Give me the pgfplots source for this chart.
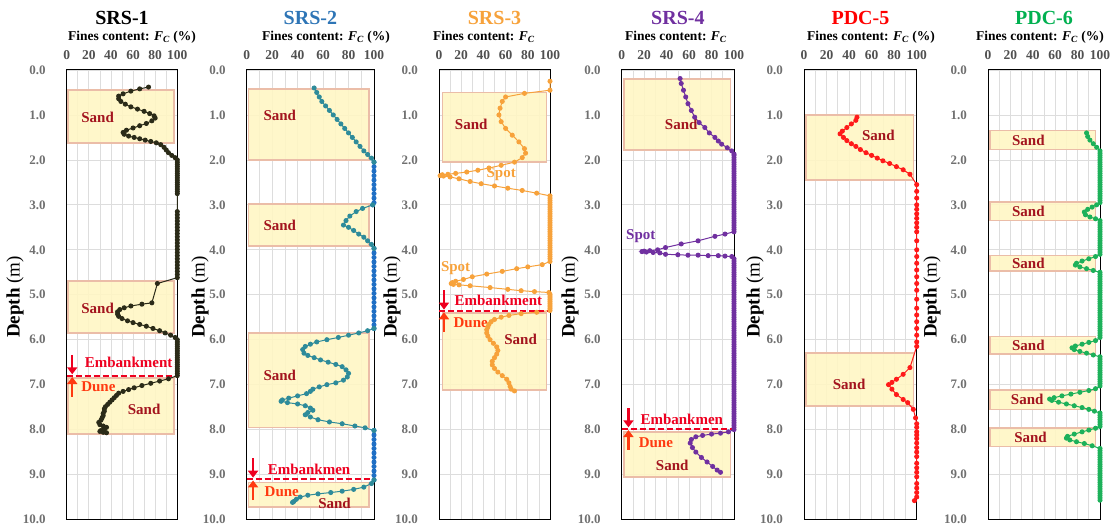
\documentclass[border=0pt]{standalone}
\usepackage{fontspec}
\setmainfont{Liberation Serif}
\usepackage{pgfplots}
\pgfplotsset{compat=1.18}
\usetikzlibrary{arrows.meta}

\definecolor{c1}{HTML}{2B2B18}
\definecolor{c2t}{HTML}{2E8B9A}
\definecolor{c2b}{HTML}{1F6FC5}
\definecolor{c2title}{HTML}{2E75B6}
\definecolor{c3}{HTML}{F7A23B}
\definecolor{c4}{HTML}{7030A0}
\definecolor{c5}{HTML}{FF1A1A}
\definecolor{c6}{HTML}{1DB15A}
\definecolor{c6title}{HTML}{00B050}
\definecolor{sandfill}{HTML}{FFF6C4}
\definecolor{sanddraw}{HTML}{EBBDA8}
\definecolor{sandtext}{HTML}{A3141E}
\definecolor{embred}{HTML}{EE0020}
\definecolor{dunered}{HTML}{FF3A10}
\definecolor{gridc}{HTML}{DDDDDD}
\definecolor{ytickc}{HTML}{707070}
\definecolor{xtickc}{HTML}{505050}

\newcommand{\lblfont}{\bfseries\fontsize{15}{15}\selectfont}
\newcommand{\titlefont}{\bfseries\fontsize{20}{20}\selectfont}
\newcommand{\finesfont}{\bfseries\fontsize{13.5}{13.5}\selectfont}
\newcommand{\FC}{\textit{F}\textsubscript{\textit{C}}}

\pgfplotsset{
 panel/.style={
  scale only axis, height=449.5pt, anchor=south west,
  xmin=0, xmax=100, ymin=0, ymax=10, y dir=reverse,
  xtick={0,20,...,100}, minor xtick={10,30,...,90},
  ytick={0,1,...,10},
  xmajorgrids, xminorgrids, ymajorgrids,
  major grid style={gridc, line width=0.7pt},
  minor grid style={gridc, line width=0.7pt},
  major tick length=0pt, minor tick length=0pt,
  xticklabel pos=upper,
  axis line style={line width=1pt, black},
  /pgf/number format/assume math mode=true,
  xticklabel style={font=\bfseries\fontsize{13.5}{13.5}\selectfont, text=xtickc, yshift=6.5pt},
  yticklabel style={font=\bfseries\fontsize{13}{13}\selectfont, text=ytickc, xshift=-17.5pt,
    /pgf/number format/fixed, /pgf/number format/fixed zerofill, /pgf/number format/precision=1},
  clip=false,
 },
 series/.style={color=#1, mark=*, mark size=2pt, line width=1pt, mark options={solid, fill=#1, draw=#1}},
 sandbox/.style={fill=sandfill, fill opacity=0.9, draw=sanddraw, line width=1.6pt},
 embline/.style={embred, line width=2pt, dash pattern=on 6pt off 3pt},
}
\tikzset{
 arrdown/.style={embred, line width=2.2pt, -{Triangle[length=7pt,width=10pt]}},
 arrup/.style={dunered, line width=2.2pt, -{Triangle[length=7pt,width=10pt]}},
 emb/.style={text=embred, font=\lblfont, inner sep=0pt},
 dune/.style={text=dunered, font=\lblfont, inner sep=0pt, anchor=west},
 sand/.style={text=sandtext, font=\lblfont, inner sep=0pt},
}

\begin{document}
\begin{tikzpicture}[x=1pt,y=1pt]
\path[use as bounding box] (0,0) rectangle (1115,529);

% ---------------- Panel 1: SRS-1
\begin{axis}[panel, at={(66.7pt,9.5pt)}, width=110.6pt]
\addplot[sandbox] coordinates {(1,0.45)(97,0.45)(97,1.62)(1,1.62)} -- cycle;
\addplot[sandbox] coordinates {(1,4.7)(97,4.7)(97,5.85)(1,5.85)} -- cycle;
\addplot[sandbox] coordinates {(1,6.85)(97,6.85)(97,8.1)(1,8.1)} -- cycle;
\addplot[series=c1] coordinates {
(74,0.38)(66,0.42)(58,0.47)(51,0.53)(47,0.58)(47,0.64)(49,0.7)(53,0.76)(58,0.82)(64,0.87)(70,0.92)(75,0.97)(79,1.02)(80,1.07)(77,1.13)(72,1.19)(66,1.24)(60,1.29)(54,1.34)(51,1.39)(52,1.43)(56,1.47)(61,1.5)(66,1.53)(71,1.56)(76,1.59)(81,1.62)(85,1.66)(88,1.72)(90,1.78)(92,1.84)(95,1.9)(98,1.95)(100,2.0)
(100,2.05)(100,2.1)(100,2.15)(100,2.2)(100,2.25)(100,2.3)(100,2.35)(100,2.4)(100,2.45)(100,2.5)(100,2.55)(100,2.6)(100,2.65)(100,2.7)(100,2.75)
(100,3.15)(100,3.22)(100,3.29)(100,3.36)(100,3.43)(100,3.5)(100,3.57)(100,3.64)(100,3.71)(100,3.78)(100,3.85)(100,3.92)(100,3.99)(100,4.06)(100,4.13)(100,4.2)(100,4.27)(100,4.34)(100,4.41)(100,4.48)(100,4.55)(100,4.62)
(82,4.75)(77,5.18)(68,5.21)(58,5.25)(52,5.29)(48,5.33)(46,5.38)(46,5.43)(47,5.48)(50,5.53)(55,5.58)(60,5.62)(66,5.66)(72,5.7)(78,5.75)(84,5.8)(89,5.85)(94,5.9)(98,5.95)(100,6.0)
(100,6.05)(100,6.1)(100,6.15)(100,6.2)(100,6.25)(100,6.3)(100,6.35)(100,6.4)(100,6.45)(100,6.5)(100,6.55)(100,6.6)(100,6.65)(100,6.7)(100,6.75)(100,6.8)
(92,6.87)(84,6.92)(76,6.97)(68,7.02)(61,7.07)(56,7.11)(51,7.15)(47,7.19)(45,7.24)(43,7.29)(41,7.34)(39,7.39)(37,7.44)(35,7.49)(34,7.54)(34,7.59)(33,7.64)(33,7.69)(32,7.74)(31,7.79)(29,7.84)(30,7.89)(33,7.92)(36,7.95)(34,7.99)(31,8.02)(30,8.04)(33,8.06)(36,8.07)
};
\addplot[embline] coordinates {(0,6.8)(100,6.8)};
\draw[arrdown] (axis cs:5,6.34) -- (axis cs:5,6.77);
\draw[arrup] (axis cs:5,7.27) -- (axis cs:5,6.83);
\node[emb] at (axis cs:56,6.5) {Embankment};
\node[dune] at (axis cs:13,7.04) {Dune};
\node[sand] at (axis cs:28,1.05) {Sand};
\node[sand] at (axis cs:28,5.3) {Sand};
\node[sand] at (axis cs:70,7.56) {Sand};
\end{axis}

% ---------------- Panel 2: SRS-2
\begin{axis}[panel, at={(246.7pt,9.5pt)}, width=127.3pt]
\addplot[sandbox] coordinates {(1.5,0.42)(96,0.42)(96,2.0)(1.5,2.0)} -- cycle;
\addplot[sandbox] coordinates {(1.5,2.98)(96,2.98)(96,3.92)(1.5,3.92)} -- cycle;
\addplot[sandbox] coordinates {(1.5,5.85)(96,5.85)(96,7.95)(1.5,7.95)} -- cycle;
\addplot[sandbox] coordinates {(1.5,9.18)(96,9.18)(96,9.72)(1.5,9.72)} -- cycle;
\addplot[series=c2b] coordinates {(100,2.05)(100,2.15)(100,2.25)(100,2.35)(100,2.45)(100,2.55)(100,2.65)(100,2.75)(100,2.85)(100,2.95)(99,3.0)};
\addplot[series=c2b] coordinates {(100,3.97)(100,4.07)(100,4.17)(100,4.27)(100,4.37)(100,4.47)(100,4.57)(100,4.67)(100,4.77)(100,4.87)(100,4.97)(100,5.07)(100,5.17)(100,5.27)(100,5.37)(100,5.47)(100,5.57)(100,5.67)(100,5.75)};
\addplot[series=c2b] coordinates {(100,8.02)(100,8.12)(100,8.22)(100,8.32)(100,8.42)(100,8.52)(100,8.62)(100,8.72)(100,8.82)(100,8.92)(100,9.02)(100,9.12)};
\addplot[series=c2t] coordinates {(53,0.4)(55,0.5)(57,0.6)(59,0.7)(62,0.8)(65,0.9)(68,1.0)(71,1.1)(74,1.2)(77,1.3)(80,1.4)(83,1.5)(86,1.6)(89,1.7)(92,1.8)(95,1.88)(98,1.96)(100,2.05)};
\addplot[series=c2t] coordinates {(99,3.0)(91,3.08)(86,3.15)(81,3.25)(78,3.35)(76,3.45)(80,3.5)(84,3.57)(88,3.65)(92,3.72)(95,3.8)(98,3.88)(100,3.97)};
\addplot[series=c2t] coordinates {(100,5.75)(95,5.8)(88,5.85)(80,5.9)(72,5.95)(63,6.0)(55,6.05)(50,6.1)(46,6.15)(44,6.22)(45,6.3)(48,6.35)(53,6.4)(58,6.45)(64,6.5)(70,6.55)(75,6.6)(78,6.67)(80,6.75)(79,6.83)(76,6.9)(70,6.96)(63,7.0)(57,7.05)(52,7.1)(50,7.15)(47,7.2)(40,7.25)(33,7.3)(28,7.34)(27,7.37)(32,7.4)(40,7.43)(46,7.47)(50,7.52)(52,7.57)(48,7.62)(46,7.67)(50,7.72)(56,7.78)(65,7.83)(75,7.87)(85,7.92)(93,7.96)(100,8.02)};
\addplot[series=c2t] coordinates {(100,9.12)(98,9.2)(92,9.28)(84,9.33)(75,9.37)(66,9.4)(56,9.43)(48,9.46)(42,9.5)(39,9.55)(37,9.6)(36,9.62)};
\addplot[embline] coordinates {(0,9.1)(100,9.1)};
\draw[arrdown] (axis cs:5,8.64) -- (axis cs:5,9.07);
\draw[arrup] (axis cs:5,9.57) -- (axis cs:5,9.13);
\node[emb] at (axis cs:49,8.88) {Embankmen};
\node[dune] at (axis cs:14,9.38) {Dune};
\node[sand] at (axis cs:26,1.0) {Sand};
\node[sand] at (axis cs:26,3.45) {Sand};
\node[sand] at (axis cs:26,6.8) {Sand};
\node[sand] at (axis cs:69,9.64) {Sand};
\end{axis}

% ---------------- Panel 3: SRS-3
\begin{axis}[panel, at={(439pt,9.5pt)}, width=111pt]
\addplot[sandbox] coordinates {(3,0.5)(97,0.5)(97,2.05)(3,2.05)} -- cycle;
\addplot[sandbox] coordinates {(3,5.4)(97,5.4)(97,7.12)(3,7.12)} -- cycle;
\addplot[series=c3] coordinates {
(100,0.25)(100,0.45)(77,0.52)(60,0.6)(57,0.7)(55,0.85)(54,1.0)(56,1.15)(60,1.3)(66,1.45)(72,1.6)(77,1.75)(78,1.85)(75,1.95)(68,2.05)(56,2.12)(45,2.18)(35,2.23)(25,2.27)(15,2.3)(8,2.32)(3,2.33)(1,2.35)(4,2.36)(10,2.38)(18,2.42)(28,2.48)(38,2.53)(50,2.58)(62,2.63)(75,2.68)(88,2.74)(100,2.8)
(100,2.85)(100,2.9)(100,2.95)(100,3.0)(100,3.05)(100,3.1)(100,3.15)(100,3.2)(100,3.25)(100,3.3)(100,3.35)(100,3.4)(100,3.45)(100,3.5)(100,3.55)(100,3.6)(100,3.65)(100,3.7)(100,3.75)(100,3.8)(100,3.85)(100,3.9)(100,3.95)(100,4.0)(100,4.05)(100,4.1)(100,4.15)(100,4.2)(100,4.26)
(93,4.33)(80,4.38)(70,4.42)(57,4.48)(43,4.54)(30,4.6)(22,4.66)(15,4.7)(12,4.73)(11,4.75)(13,4.77)(18,4.78)(28,4.8)(46,4.84)(62,4.88)(74,4.91)(86,4.93)(99,4.95)
(100,4.99)(100,5.03)(100,5.07)(100,5.11)(100,5.15)(100,5.19)(100,5.23)(100,5.27)(100,5.31)(100,5.35)
(88,5.39)(74,5.42)(63,5.46)(56,5.5)(50,5.55)(47,5.6)(45,5.66)(44,5.72)(43,5.78)(43,5.85)(44,5.92)(46,6.0)(49,6.08)(52,6.16)(53,6.24)(52,6.32)(50,6.4)(48,6.48)(48,6.56)(50,6.64)(53,6.72)(57,6.8)(61,6.88)(63,6.96)(64,7.04)(65,7.1)(68,7.14)
};
\addplot[embline] coordinates {(0,5.36)(100,5.36)};
\draw[arrdown] (axis cs:4.5,4.9) -- (axis cs:4.5,5.33);
\draw[arrup] (axis cs:4.5,5.83) -- (axis cs:4.5,5.39);
\node[emb] at (axis cs:53.5,5.12) {Embankment};
\node[dune] at (axis cs:13,5.63) {Dune};
\node[sand] at (axis cs:29,1.2) {Sand};
\node[sand] at (axis cs:73.5,6.0) {Sand};
\node[text=c3, font=\lblfont, inner sep=0pt] at (axis cs:56,2.32) {Spot};
\node[text=c3, font=\lblfont, inner sep=0pt] at (axis cs:15,4.41) {Spot};
\end{axis}

% ---------------- Panel 4: SRS-4
\begin{axis}[panel, at={(621.7pt,9.5pt)}, width=112.3pt]
\addplot[sandbox] coordinates {(2,0.2)(97,0.2)(97,1.78)(2,1.78)} -- cycle;
\addplot[sandbox] coordinates {(2,8.05)(97,8.05)(97,9.05)(2,9.05)} -- cycle;
\addplot[series=c4] coordinates {
(52,0.19)(53,0.3)(55,0.45)(57,0.6)(59,0.75)(62,0.9)(65,1.05)(69,1.17)(74,1.28)(78,1.4)(83,1.5)(86,1.58)(89,1.65)(94,1.73)(98,1.8)(100,1.87)
(100,1.9)(100,1.95)(100,2.0)(100,2.05)(100,2.1)(100,2.15)(100,2.2)(100,2.25)(100,2.3)(100,2.35)(100,2.4)(100,2.45)(100,2.5)(100,2.55)(100,2.6)(100,2.65)(100,2.7)(100,2.75)(100,2.8)(100,2.85)(100,2.9)(100,2.95)(100,3.0)(100,3.05)(100,3.1)(100,3.15)(100,3.2)(100,3.25)(100,3.3)(100,3.35)(100,3.4)(100,3.45)(100,3.5)(100,3.55)(100,3.6)
(92,3.65)(83,3.7)(68,3.8)(53,3.87)(39,3.95)(32,4.0)(25,4.02)(20,4.03)(18,4.04)(22,4.05)(28,4.06)(34,4.07)(39,4.1)(50,4.11)(59,4.12)(68,4.12)(77,4.13)(86,4.13)(92,4.14)(98,4.15)(100,4.2)
(100,4.25)(100,4.3)(100,4.35)(100,4.4)(100,4.45)(100,4.5)(100,4.55)(100,4.6)(100,4.65)(100,4.7)(100,4.75)(100,4.8)(100,4.85)(100,4.9)(100,4.95)(100,5.0)(100,5.05)(100,5.1)(100,5.15)(100,5.2)(100,5.25)(100,5.3)(100,5.35)(100,5.4)(100,5.45)(100,5.5)(100,5.55)(100,5.6)(100,5.65)(100,5.7)(100,5.75)(100,5.8)(100,5.85)(100,5.9)(100,5.95)(100,6.0)(100,6.05)(100,6.1)(100,6.15)(100,6.2)(100,6.25)(100,6.3)(100,6.35)(100,6.4)(100,6.45)(100,6.5)(100,6.55)(100,6.6)(100,6.65)(100,6.7)(100,6.75)(100,6.8)(100,6.85)(100,6.9)(100,6.95)(100,7.0)(100,7.05)(100,7.1)(100,7.15)(100,7.2)(100,7.25)(100,7.3)(100,7.35)(100,7.4)(100,7.45)(100,7.5)(100,7.55)(100,7.6)(100,7.65)(100,7.7)(100,7.75)(100,7.8)(100,7.85)(100,7.9)(100,7.95)(100,8.0)
(95,8.05)(88,8.08)(80,8.1)(72,8.13)(66,8.16)(62,8.22)(61,8.3)(63,8.4)(66,8.5)(71,8.62)(76,8.72)(81,8.82)(85,8.9)(88,8.95)
};
\addplot[embline] coordinates {(0,7.98)(100,7.98)};
\draw[arrdown] (axis cs:6,7.52) -- (axis cs:6,7.95);
\draw[arrup] (axis cs:6,8.45) -- (axis cs:6,8.01);
\node[emb] at (axis cs:53.5,7.77) {Embankmen};
\node[dune] at (axis cs:15,8.3) {Dune};
\node[sand] at (axis cs:53,1.2) {Sand};
\node[sand] at (axis cs:45,8.79) {Sand};
\node[text=c4, font=\lblfont, inner sep=0pt] at (axis cs:17,3.7) {Spot};
\end{axis}

% ---------------- Panel 5: PDC-5
\begin{axis}[panel, at={(804pt,9.5pt)}, width=112.7pt]
\addplot[sandbox] coordinates {(2,1.0)(97,1.0)(97,2.45)(2,2.45)} -- cycle;
\addplot[sandbox] coordinates {(2,6.3)(97,6.3)(97,7.48)(2,7.48)} -- cycle;
\addplot[series=c5] coordinates {
(47,1.05)(46,1.12)(42,1.2)(38,1.28)(34,1.36)(32,1.42)(35,1.5)(38,1.57)(42,1.64)(46,1.7)(50,1.77)(55,1.84)(60,1.9)(65,1.96)(70,2.02)(76,2.08)(82,2.15)(88,2.22)(94,2.32)(100,2.55)
(100,2.7)(100,2.85)(100,3.0)(100,3.1)(100,3.2)(100,3.3)(100,3.4)(100,3.5)(100,3.6)(100,3.8)(100,4.0)(100,4.15)(100,4.3)(100,4.45)(100,4.6)(100,4.75)(100,4.9)(100,5.1)(100,5.3)(100,5.45)(100,5.6)(100,5.75)(100,5.9)(100,6.05)(100,6.15)
(94,6.62)(88,6.77)(82,6.88)(78,6.95)(75,7.0)(78,7.1)(82,7.22)(88,7.33)(92,7.4)(97,7.55)(99,7.74)(100,7.87)
(100,7.95)(100,8.05)(100,8.12)(100,8.2)(100,8.3)(100,8.4)(100,8.5)(100,8.6)(100,8.75)(100,8.85)(100,8.95)(100,9.05)(100,9.2)(100,9.3)(100,9.4)(100,9.5)(98,9.58)
};
\node[sand] at (axis cs:66,1.45) {Sand};
\node[sand] at (axis cs:40,7.0) {Sand};
\end{axis}

% ---------------- Panel 6: PDC-6
\begin{axis}[panel, at={(988pt,9.5pt)}, width=112pt]
\addplot[sandbox] coordinates {(2,1.35)(96,1.35)(96,1.77)(2,1.77)} -- cycle;
\addplot[sandbox] coordinates {(2,2.93)(96,2.93)(96,3.35)(2,3.35)} -- cycle;
\addplot[sandbox] coordinates {(2,4.13)(96,4.13)(96,4.47)(2,4.47)} -- cycle;
\addplot[sandbox] coordinates {(2,5.93)(96,5.93)(96,6.32)(2,6.32)} -- cycle;
\addplot[sandbox] coordinates {(2,7.12)(96,7.12)(96,7.55)(2,7.55)} -- cycle;
\addplot[sandbox] coordinates {(2,7.97)(96,7.97)(96,8.38)(2,8.38)} -- cycle;
\addplot[series=c6] coordinates {
(88,1.4)(89,1.48)(91,1.56)(94,1.64)(97,1.72)(100,1.8)
(100,1.85)(100,1.9)(100,1.95)(100,2.0)(100,2.05)(100,2.1)(100,2.15)(100,2.2)(100,2.25)(100,2.3)(100,2.35)(100,2.4)(100,2.45)(100,2.5)(100,2.55)(100,2.6)(100,2.65)(100,2.7)(100,2.75)(100,2.8)(100,2.85)(100,2.9)(100,2.95)
(97,3.0)(93,3.05)(89,3.1)(86,3.16)(87,3.22)(91,3.27)(96,3.31)(100,3.35)
(100,3.4)(100,3.45)(100,3.5)(100,3.55)(100,3.6)(100,3.65)(100,3.7)(100,3.75)(100,3.8)(100,3.85)(100,3.9)(100,3.95)(100,4.0)(100,4.05)(100,4.1)
(96,4.15)(90,4.2)(84,4.25)(79,4.3)(78,4.34)(82,4.38)(88,4.42)(94,4.46)(100,4.5)
(100,4.55)(100,4.6)(100,4.65)(100,4.7)(100,4.75)(100,4.8)(100,4.85)(100,4.9)(100,4.95)(100,5.0)(100,5.05)(100,5.1)(100,5.15)(100,5.2)(100,5.25)(100,5.3)(100,5.35)(100,5.4)(100,5.45)(100,5.5)(100,5.55)(100,5.6)(100,5.65)(100,5.7)(100,5.75)(100,5.8)(100,5.85)(100,5.9)(100,5.95)
(96,6.02)(90,6.06)(84,6.1)(78,6.14)(75,6.18)(77,6.22)(82,6.26)(88,6.3)(94,6.34)(100,6.38)
(100,6.43)(100,6.48)(100,6.53)(100,6.58)(100,6.63)(100,6.68)(100,6.73)(100,6.78)(100,6.83)(100,6.88)(100,6.93)(100,6.98)(100,7.03)
(96,7.09)(90,7.13)(82,7.17)(74,7.21)(66,7.25)(59,7.29)(55,7.32)(57,7.35)(63,7.39)(70,7.43)(77,7.47)(84,7.51)(90,7.55)(95,7.59)(100,7.63)
(100,7.68)(100,7.73)(100,7.78)(100,7.83)(100,7.88)(100,7.93)
(96,7.97)(90,8.01)(84,8.05)(77,8.1)(71,8.15)(70,8.19)(73,8.23)(79,8.27)(86,8.31)(93,8.36)(100,8.42)
(100,8.47)(100,8.52)(100,8.57)(100,8.62)(100,8.67)(100,8.72)(100,8.77)(100,8.82)(100,8.87)(100,8.92)(100,8.97)(100,9.02)(100,9.07)(100,9.12)(100,9.17)(100,9.22)(100,9.27)(100,9.32)(100,9.37)(100,9.42)(100,9.47)(100,9.52)(100,9.57)
};
\node[sand] at (axis cs:36,1.56) {Sand};
\node[sand] at (axis cs:36,3.14) {Sand};
\node[sand] at (axis cs:36,4.3) {Sand};
\node[sand] at (axis cs:36,6.12) {Sand};
\node[sand] at (axis cs:35,7.33) {Sand};
\node[sand] at (axis cs:38,8.17) {Sand};
\end{axis}

% ---------------- titles and labels
\node[font=\titlefont] at (122,511) {SRS-1};
\node[font=\titlefont, text=c2title] at (310.4,511) {SRS-2};
\node[font=\titlefont, text=c3] at (494.5,511) {SRS-3};
\node[font=\titlefont, text=c4] at (677.9,511) {SRS-4};
\node[font=\titlefont, text=red] at (860.4,511) {PDC-5};
\node[font=\titlefont, text=c6title] at (1044,511) {PDC-6};

\node[font=\finesfont] at (132,492) {Fines content: \FC\ (\%)};
\node[font=\finesfont] at (326,492) {Fines content: \FC\ (\%)};
\node[font=\finesfont] at (484,492) {Fines content: \FC};
\node[font=\finesfont] at (676,492) {Fines content: \FC};
\node[font=\finesfont] at (871,492) {Fines content: \FC\ (\%)};
\node[font=\finesfont] at (1040,492) {Fines content: \FC\ (\%)};

\foreach \xx in {15,200,392,570,755,932}{
  \node[rotate=90, font=\fontsize{19}{19}\selectfont] at (\xx,232) {\textbf{Depth} (m)};
}
\end{tikzpicture}
\end{document}
